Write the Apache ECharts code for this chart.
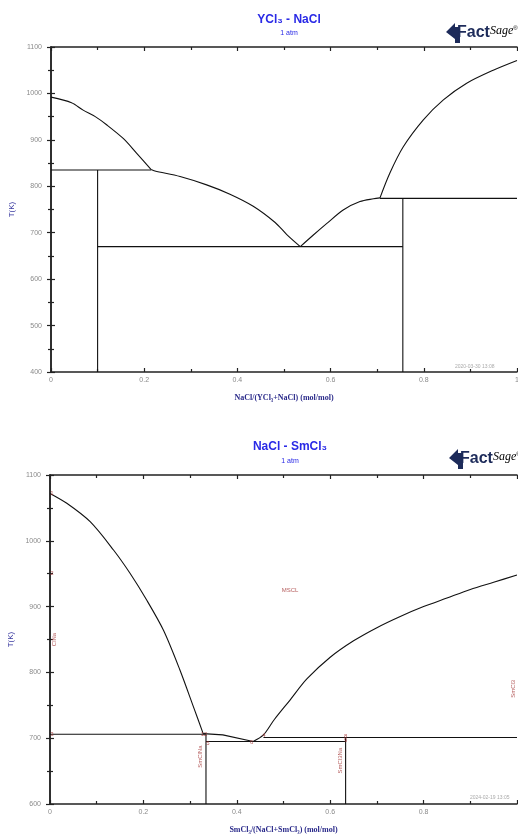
<!DOCTYPE html>
<html><head><meta charset="utf-8">
<script src="https://cdn.jsdelivr.net/npm/echarts@6/dist/echarts.min.js"></script>
<style>html,body{margin:0;padding:0;background:#fff}#c{width:518px;height:837px}</style>
</head><body><div id="c"></div>
<script>
// ---- Top diagram: YCl3 - NaCl (x = NaCl fraction, T in K)
const topLiqLeft = [[0,992],[0.044,980],[0.069,964],[0.095,950],[0.12,932],[0.155,903],[0.184,871],[0.215,836]];
const topLiqMid = [[0.215,836],[0.223,833],[0.277,821],[0.334,803],[0.384,783],[0.434,757],[0.481,722],[0.506,696],[0.535,670]];
const topLiqRise = [[0.535,670],[0.563,695],[0.592,720],[0.627,749],[0.663,767],[0.692,773],[0.706,775]];
const topLiqRight = [[0.706,775],[0.727,828],[0.756,885],[0.799,943],[0.842,986],[0.892,1022],[0.949,1050],[1,1071]];
const topPeri835 = [[0,835],[0.215,835]];
const topComp01 = [[0.1,835],[0.1,400]];
const topEut670 = [[0.1,670],[0.755,670]];
const topPeri774 = [[0.706,774],[1,774]];
const topComp075 = [[0.755,774],[0.755,400]];

// ---- Bottom diagram: NaCl - SmCl3 (x = SmCl3 fraction)
const botLiqLeft = [[0,1072],[0.036,1057],[0.086,1029],[0.136,986],[0.171,951],[0.207,910],[0.243,864],[0.278,804],[0.307,748],[0.328,707]];
const botLiqMid = [[0.328,707],[0.37,705],[0.435,695]];
const botLiqRight = [[0.435,695],[0.457,705],[0.48,728],[0.514,758],[0.55,790],[0.6,823],[0.65,848],[0.7,868],[0.75,885],[0.8,900],[0.85,913],[0.9,926],[0.95,937],[1,948]];
const botPeri706 = [[0,706],[0.334,706]];
const botEut695 = [[0.334,695],[0.633,695]];
const botComp033 = [[0.334,706],[0.334,600]];
const botComp063 = [[0.633,701],[0.633,600]];
const botPeri701 = [[0.457,701],[1,701]];
const botLabels = [[0.004,1072,'1'],[0.004,951,'2'],[0.004,706,'3'],[0.33,706,'12'],[0.338,692,'5'],[0.432,693,'6'],[0.458,704,'4'],[0.633,703,'8'],[0.633,697,'9'],[0.514,925,'MSCL']];
const botRotLabels = [[0.01,850,'ClNa'],[0.322,672,'SmClNa'],[0.622,666,'SmCl3Na'],[0.993,775,'SmCl3']];

const xTicks = [0,0.2,0.4,0.6,0.8,1];
const topYRange = [400,1100];
const botYRange = [600,1100];

const chart = echarts.init(document.getElementById('c'));
const lblFont = {fontSize:7,color:'#8a8a8a',fontFamily:'Liberation Sans'};
const nameStyle = {fontSize:8,color:'#2a2a8a',fontFamily:'Liberation Serif',fontWeight:'bold'};

function xAx(grid, pos, showLbl, name, hideOne){
  return {type:'value',gridIndex:grid,position:pos,min:xTicks[0],max:xTicks[xTicks.length-1],interval:0.2,
    axisLine:{show:true,lineStyle:{color:'#222',width:1.5}},
    axisTick:{show:true,inside:true,length:4,lineStyle:{color:'#222',width:1.2}},
    minorTick:{show:true,splitNumber:2,length:3,lineStyle:{color:'#222',width:1.2}},
    splitLine:{show:false},
    axisLabel:Object.assign({show:showLbl,margin:5,formatter:v=>(hideOne&&v===1)?'':String(v)},lblFont),
    name:showLbl?name:'',nameLocation:'middle',nameGap:22,nameTextStyle:nameStyle};
}
function yAx(grid, pos, showLbl, rng){
  return {type:'value',gridIndex:grid,position:pos,min:rng[0],max:rng[1],interval:100,
    axisLine:{show:true,lineStyle:{color:'#222',width:1.5}},
    axisTick:{show:true,inside:true,length:4,lineStyle:{color:'#222',width:1.2}},
    minorTick:{show:true,splitNumber:2,length:3,lineStyle:{color:'#222',width:1.2}},
    splitLine:{show:false},
    axisLabel:Object.assign({show:showLbl,margin:9,formatter:v=>String(v)},lblFont),
    name:showLbl?'T(K)':'',nameLocation:'middle',nameGap:35,nameTextStyle:Object.assign({},nameStyle,{fontFamily:'Liberation Sans',fontWeight:'normal',color:'#3a3aa0'})};
}
function ln(data, xi, sm){
  return {type:'line',data:data,xAxisIndex:xi,yAxisIndex:xi,showSymbol:false,symbol:'none',silent:true,smooth:sm||false,
    lineStyle:{color:'#111',width:1.1},z:3};
}
const lineSets = [
  [topLiqLeft,0,0.3],[topLiqMid,0,0.3],[topLiqRise,0,0.3],[topLiqRight,0,0.3],[topPeri835,0],[topComp01,0],[topEut670,0],[topPeri774,0],[topComp075,0],
  [botLiqLeft,2,0.3],[botLiqMid,2],[botLiqRight,2,0.3],[botPeri706,2],[botEut695,2],[botComp033,2],[botComp063,2],[botPeri701,2]
];
const series = lineSets.map(s=>ln(s[0],s[1],s[2]));
series.push({type:'scatter',xAxisIndex:2,yAxisIndex:2,data:botLabels,symbolSize:0,silent:true,z:5,
  label:{show:true,position:'inside',formatter:p=>p.data[2],fontSize:6,color:'#a33333',fontFamily:'Liberation Sans'}});
series.push({type:'scatter',xAxisIndex:2,yAxisIndex:2,data:botRotLabels,symbolSize:0,silent:true,z:5,
  label:{show:true,position:'inside',rotate:90,formatter:p=>p.data[2],fontSize:6,color:'#a33333',fontFamily:'Liberation Sans'}});

function logo(x,y){
  return {type:'group',left:x,top:y,children:[
    {type:'polygon',shape:{points:[[0,10],[9,1],[9,5],[14,5],[14,21],[9,21],[9,17]]},style:{fill:'#1d2b5a'}},
    {type:'text',x:11,y:3,style:{text:'{f|Fact}{s|Sage}{r|®}',rich:{
      f:{font:'bold 16px "Liberation Sans"',fill:'#1d2b5a',color:'#1d2b5a'},
      s:{font:'italic 12px "Liberation Serif"',color:'#1d2b5a',verticalAlign:'top'},
      r:{font:'6px "Liberation Sans"',color:'#1d2b5a',verticalAlign:'top'}}}}
  ]};
}

chart.setOption({
  animation:false,
  title:[
    {text:'YCl₃ - NaCl',left:284,top:9,textAlign:'center',textStyle:{fontSize:12,fontWeight:'bold',color:'#2a2ae6',fontFamily:'Liberation Sans'}},
    {text:'1 atm',left:284,top:25,textAlign:'center',textStyle:{fontSize:7,fontWeight:'normal',color:'#2a2ae6',fontFamily:'Liberation Sans'}},
    {text:'NaCl - SmCl₃',left:285,top:436,textAlign:'center',textStyle:{fontSize:12,fontWeight:'bold',color:'#2a2ae6',fontFamily:'Liberation Sans'}},
    {text:'1 atm',left:285,top:453,textAlign:'center',textStyle:{fontSize:7,fontWeight:'normal',color:'#2a2ae6',fontFamily:'Liberation Sans'}}
  ],
  grid:[
    {left:51,top:47,width:466,height:325,outerBoundsMode:'none',containLabel:false},
    {left:50,top:475,width:467,height:329,outerBoundsMode:'none',containLabel:false}
  ],
  xAxis:[
    xAx(0,'bottom',true,'NaCl/(YCl₃+NaCl) (mol/mol)',false),
    xAx(0,'top',false,'',false),
    xAx(1,'bottom',true,'SmCl₃/(NaCl+SmCl₃) (mol/mol)',true),
    xAx(1,'top',false,'',false)
  ],
  yAxis:[
    yAx(0,'left',true,topYRange),
    yAx(0,'right',false,topYRange),
    yAx(1,'left',true,botYRange),
    yAx(1,'right',false,botYRange)
  ],
  series:series,
  graphic:[
    logo(446,23),
    logo(449,449),
    {type:'text',left:455,top:364,style:{text:'2020-03-30 13:08',font:'5px "Liberation Sans"',fill:'#aaa'}},
    {type:'text',left:470,top:795,style:{text:'2024-02-19 13:05',font:'5px "Liberation Sans"',fill:'#aaa'}}
  ]
});
</script></body></html>
